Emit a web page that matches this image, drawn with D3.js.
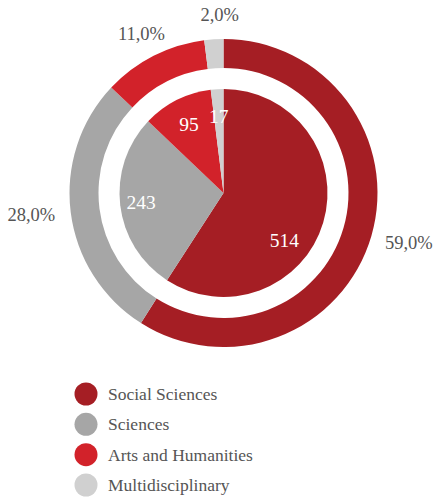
<!DOCTYPE html>
<html><head><meta charset="utf-8">
<script src="https://cdn.jsdelivr.net/npm/d3@7"></script>
<style>body{margin:0;background:#fff}svg{display:block}</style>
</head><body>
<script>
const categories = ["Social Sciences", "Sciences", "Arts and Humanities", "Multidisciplinary"];
const counts = [514, 243, 95, 17];
const percents = [59.0, 28.0, 11.0, 2.0];
const colors = ["#A51E24", "#A6A6A6", "#D2222A", "#D0D0D0"];

const W = 436, H = 501, cx = 223.5, cy = 193;
const FONT = '"Liberation Serif"';
const svg = d3.select("body").append("svg").attr("width", W).attr("height", H);

const pie = d3.pie().sort(null).value(d => d);
const outerArcs = pie(percents);
const innerArcs = pie(counts);
const g = svg.append("g").attr("transform", `translate(${cx},${cy})`);

const outerArc = d3.arc().innerRadius(125).outerRadius(154);
const innerArc = d3.arc().innerRadius(0).outerRadius(104);

g.selectAll("path.o").data(outerArcs).join("path").attr("class", "o")
  .attr("d", outerArc).attr("fill", (d, i) => colors[i]);
g.selectAll("path.i").data(innerArcs).join("path").attr("class", "i")
  .attr("d", innerArc).attr("fill", (d, i) => colors[i]);

// percentage labels
const fmt = v => v.toFixed(1).replace(".", ",") + "%";
g.selectAll("text.p").data(outerArcs).join("text").attr("class", "p")
  .text(d => fmt(d.data))
  .style("font-family", FONT).attr("font-size", 18.5).style("fill", "#555555")
  .attr("dominant-baseline", "central").attr("text-anchor", "middle")
  .each(function (d) {
    const a = (d.startAngle + d.endAngle) / 2, r = 170;
    const w = this.getComputedTextLength(), h = 16;
    const s = Math.sin(a), c = Math.cos(a);
    d3.select(this).attr("x", r * s + s * Math.abs(s) * w / 2 + (Math.abs(s) < 0.2 ? 7 : 0))
      .attr("y", -r * c - c * h / 2);
  });

// count labels
g.selectAll("text.c").data(innerArcs).join("text").attr("class", "c")
  .text(d => d.data)
  .style("font-family", FONT).attr("font-size", 19.5).style("fill", "#ffffff")
  .attr("dominant-baseline", "central").attr("text-anchor", "middle")
  .each(function (d, i) {
    const a = (d.startAngle + d.endAngle) / 2 + (i === 0 ? 0.37 : 0);
    const r = i === 1 ? 83 : 77;
    d3.select(this).attr("x", r * Math.sin(a)).attr("y", -r * Math.cos(a));
  });

// legend
const leg = svg.append("g");
const ly = d3.scalePoint().domain(categories).range([394, 485]);
leg.selectAll("circle").data(categories).join("circle")
  .attr("cx", 86).attr("cy", d => ly(d)).attr("r", 11.5)
  .attr("fill", (d, i) => colors[i]);
leg.selectAll("text").data(categories).join("text")
  .attr("x", 108).attr("y", d => ly(d)).attr("dominant-baseline", "central")
  .style("font-family", FONT).attr("font-size", 17.5).style("fill", "#555555")
  .text(d => d);
</script>
</body></html>
